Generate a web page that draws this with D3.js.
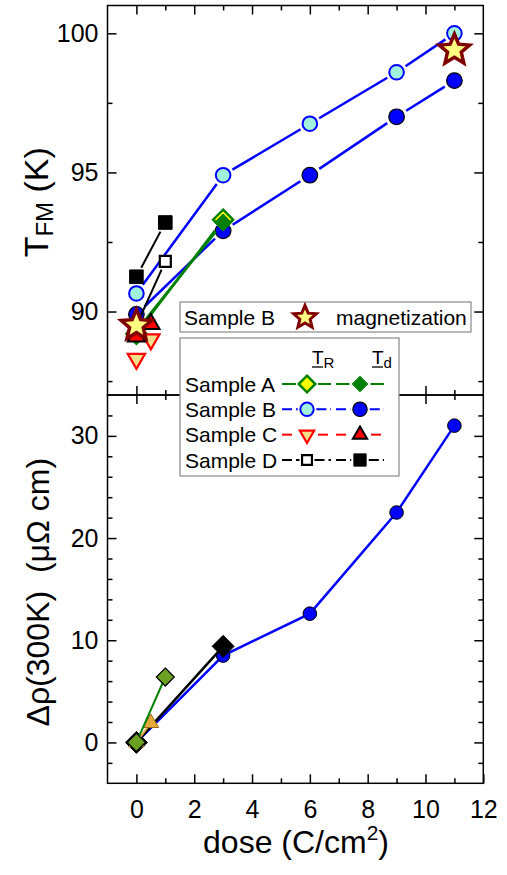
<!DOCTYPE html>
<html>
<head>
<meta charset="utf-8">
<script src="https://cdn.jsdelivr.net/npm/d3@7"></script>
<style>
  body { margin: 0; background: #fff; }
  svg { display: block; }
  text { font-family: "Liberation Sans", Arial, sans-serif; }
</style>
</head>
<body>
<div id="chart"></div>
<script>
// dose (C/cm^2) for every sample
const doseA = [0, 3];
const doseB = [0, 3, 6, 9, 11];
const doseC = [0, 0.5];
const doseD = [0, 1];
const doseMag = [0, 11];

// T_FM (K): T_R and T_d
const tfmA_R = [89.2, 93.3];
const tfmA_d = [89.3, 93.2];
const tfmB_R = [90.65, 94.9, 96.75, 98.6, 100.0];
const tfmB_d = [89.9, 92.9, 94.9, 97.0, 98.3];
const tfmC_R = [88.3, 89.0];
const tfmC_d = [89.1, 89.55];
const tfmD_R = [89.5, 91.8];
const tfmD_d = [91.25, 93.2];
const tfmMag = [89.5, 99.4];   // sample B, from magnetization

// delta rho(300K) (micro-ohm cm)
const rhoDoseA = [0, 1];
const rhoA = [0, 6.4];
const rhoDoseB = [0, 3, 6, 9, 11];
const rhoB = [0, 8.5, 12.6, 22.5, 31.0];
const rhoDoseC = [0, 0.5];
const rhoC = [0, 1.9];
const rhoDoseD = [0, 3];
const rhoD = [0, 9.4];

const xTicks = [0, 2, 4, 6, 8, 10, 12];
const yTicksTop = [90, 95, 100];
const yTicksBottom = [0, 10, 20, 30];
const legendSamples = ['Sample A', 'Sample B', 'Sample C', 'Sample D'];

const W = 507, H = 875;
const pLeft = 107.5, pRight = 483.3, pTop = 5.5, pMid = 395, pBottom = 783.3;

const svg = d3.select('#chart').append('svg')
    .attr('width', W)
    .attr('height', H);

const x = d3.scaleLinear().domain([-1, 12]).range([pLeft, pRight]);
const yTop = d3.scaleLinear().domain([87, 101]).range([pMid, pTop]);
const yBot = d3.scaleLinear().domain([-4, 34]).range([pBottom, pMid]);

// marker shapes, s = half size
function markerPath(type, s) {
    switch (type) {
        case 'circle':
            return `M${s},0A${s},${s} 0 1,1 ${-s},0A${s},${s} 0 1,1 ${s},0Z`;
        case 'diamond':
            return `M0,${-s}L${s},0L0,${s}L${-s},0Z`;
        case 'square':
            return `M${-s},${-s}h${2 * s}v${2 * s}h${-2 * s}Z`;
        case 'triUp':
            return `M0,${-s}L${0.866 * s},${0.5 * s}L${-0.866 * s},${0.5 * s}Z`;
        case 'triDown':
            return `M0,${s}L${0.866 * s},${-0.5 * s}L${-0.866 * s},${-0.5 * s}Z`;
        case 'star': {
            let p = [];
            for (let i = 0; i < 10; i++) {
                let r = i % 2 ? s * 0.45 : s;
                let a = -Math.PI / 2 + i * Math.PI / 5;
                p.push([r * Math.cos(a), r * Math.sin(a)]);
            }
            return 'M' + p.map(d => d.join(',')).join('L') + 'Z';
        }
    }
}

// line segments that stop a little before each marker (Origin style gap)
function gappedLine(g, pts, st) {
    for (let i = 0; i < pts.length - 1; i++) {
        let [x0, y0] = pts[i], [x1, y1] = pts[i + 1];
        let d = Math.hypot(x1 - x0, y1 - y0);
        let g0 = st.gap, g1 = st.gap;
        if (d <= g0 + g1) continue;
        let ux = (x1 - x0) / d, uy = (y1 - y0) / d;
        g.append('line')
            .attr('x1', x0 + ux * g0).attr('y1', y0 + uy * g0)
            .attr('x2', x1 - ux * g1).attr('y2', y1 - uy * g1)
            .style('stroke', st.line)
            .style('stroke-width', st.lw)
            .style('stroke-dasharray', st.dash || null);
    }
}

function drawSeries(g, xs, ys, yScale, st) {
    let pts = xs.map((d, i) => [x(d), yScale(ys[i])]);
    if (st.line) {
        if (st.gap) {
            gappedLine(g, pts, st);
        } else {
            g.append('path')
                .datum(pts)
                .attr('d', d3.line())
                .style('fill', 'none')
                .style('stroke', st.line)
                .style('stroke-width', st.lw);
        }
    }
    g.selectAll(null)
        .data(pts)
        .enter().append('path')
        .attr('transform', d => `translate(${d[0]},${d[1]})`)
        .attr('d', markerPath(st.shape, st.size))
        .style('fill', st.fill)
        .style('stroke', st.stroke)
        .style('stroke-width', st.sw)
        .style('stroke-linejoin', 'miter');
}

// marker / line styles
const styleA_R = { shape: 'diamond', size: 10, fill: '#ffff00', stroke: '#008000', sw: 2.5, line: '#008000', lw: 2.5 };
const styleA_d = { shape: 'diamond', size: 8.5, fill: '#008000', stroke: '#008000', sw: 1, line: '#008000', lw: 2.5 };
const styleB_R = { shape: 'circle', size: 7.3, fill: '#a0f2dc', stroke: '#0000ff', sw: 2, line: '#0000ff', lw: 2.5 };
const styleB_d = { shape: 'circle', size: 7.8, fill: '#0000ff', stroke: '#000', sw: 1.2, line: '#0000ff', lw: 2.5 };
const styleC_R = { shape: 'triDown', size: 10, fill: '#f2e08c', stroke: '#ff0000', sw: 2.2, line: '#ff0000', lw: 2 };
const styleC_d = { shape: 'triUp', size: 10, fill: '#ff0000', stroke: '#000', sw: 2, line: '#ff0000', lw: 2 };
const styleD_R = { shape: 'square', size: 5.5, fill: '#fff', stroke: '#000', sw: 2.2, line: '#000', lw: 2 };
const styleD_d = { shape: 'square', size: 6.8, fill: '#000', stroke: '#000', sw: 1, line: '#000', lw: 2 };
const styleMag = { shape: 'star', size: 16, fill: '#ffff80', stroke: '#800000', sw: 3.5 };

// ---- top panel ----
const topG = svg.append('g');
[[doseB, tfmB_R, styleB_R], [doseB, tfmB_d, styleB_d],
 [doseA, tfmA_R, styleA_R], [doseA, tfmA_d, styleA_d],
 [doseC, tfmC_R, styleC_R], [doseC, tfmC_d, styleC_d],
 [doseD, tfmD_R, styleD_R], [doseD, tfmD_d, styleD_d],
 [doseMag, tfmMag, styleMag]].forEach(([xs, ys, st]) => {
    drawSeries(topG, xs, ys, yTop, Object.assign({ gap: st.size + 3.5 }, st));
});

// ---- bottom panel ----
const botG = svg.append('g');
drawSeries(botG, rhoDoseB, rhoB, yBot,
    { shape: 'circle', size: 6.8, fill: '#0000ff', stroke: '#000', sw: 1, line: '#0000ff', lw: 2.5 });
drawSeries(botG, rhoDoseD, rhoD, yBot,
    { shape: 'diamond', size: 11, fill: '#000', stroke: '#000', sw: 1, line: '#000', lw: 2.5 });
drawSeries(botG, rhoDoseC, rhoC, yBot,
    { shape: 'triUp', size: 9, fill: '#e8a93c', stroke: '#9a6a18', sw: 1, line: '#e8a93c', lw: 2 });
drawSeries(botG, rhoDoseA, rhoA, yBot,
    { shape: 'diamond', size: 9, fill: '#6aa121', stroke: '#000', sw: 1.2, line: '#008000', lw: 2 });

// ---- axes ----
const axisFont = 25;
const xMinor = d3.range(1, 12, 2);

function styleAxis(g) {
    g.select('.domain').remove();
    g.selectAll('line').style('stroke', '#000').style('stroke-width', 1.5);
    g.selectAll('text').style('font-size', axisFont + 'px').style('fill', '#000')
        .style('font-family', '"Liberation Sans", Arial, sans-serif');
}

function panelAxes(yScale, yMajor, yMinor, y0, y1, labelsX) {
    let ax = svg.append('g');
    ax.append('g').attr('transform', `translate(${pLeft},0)`)
        .call(d3.axisLeft(yScale).tickValues(yMajor).tickSize(-9).tickPadding(9).tickSizeOuter(0))
        .call(styleAxis);
    ax.append('g').attr('transform', `translate(${pLeft},0)`)
        .call(d3.axisLeft(yScale).tickValues(yMinor).tickSize(-5).tickFormat('').tickSizeOuter(0))
        .call(styleAxis);
    ax.append('g').attr('transform', `translate(${pRight},0)`)
        .call(d3.axisRight(yScale).tickValues(yMajor).tickSize(-9).tickFormat('').tickSizeOuter(0))
        .call(styleAxis);
    ax.append('g').attr('transform', `translate(${pRight},0)`)
        .call(d3.axisRight(yScale).tickValues(yMinor).tickSize(-5).tickFormat('').tickSizeOuter(0))
        .call(styleAxis);
    // top edge (ticks pointing down) and bottom edge (ticks pointing up)
    ax.append('g').attr('transform', `translate(0,${y0})`)
        .call(d3.axisTop(x).tickValues(xTicks.slice(0, -1)).tickSize(-9).tickFormat('').tickSizeOuter(0))
        .call(styleAxis);
    ax.append('g').attr('transform', `translate(0,${y0})`)
        .call(d3.axisTop(x).tickValues(xMinor).tickSize(-5).tickFormat('').tickSizeOuter(0))
        .call(styleAxis);
    ax.append('g').attr('transform', `translate(0,${y1})`)
        .call(d3.axisBottom(x).tickValues(labelsX ? xTicks : xTicks.slice(0, -1)).tickSize(-9)
            .tickPadding(17).tickFormat(labelsX ? d3.format('d') : '').tickSizeOuter(0))
        .call(styleAxis);
    ax.append('g').attr('transform', `translate(0,${y1})`)
        .call(d3.axisBottom(x).tickValues(xMinor).tickSize(-5).tickFormat('').tickSizeOuter(0))
        .call(styleAxis);
    ax.append('rect')
        .attr('x', pLeft).attr('y', y0)
        .attr('width', pRight - pLeft).attr('height', y1 - y0)
        .style('fill', 'none').style('stroke', '#000').style('stroke-width', 1.5);
}

const minorTop = d3.range(87.5, 101, 2.5).filter(v => !yTicksTop.includes(v));
const minorBot = d3.range(-2, 34, 2).filter(v => !yTicksBottom.includes(v));
panelAxes(yTop, yTicksTop, minorTop, pTop, pMid, false);
panelAxes(yBot, yTicksBottom, minorBot, pMid, pBottom, true);

// ---- axis titles ----
const tTitle = svg.append('text')
    .attr('transform', `translate(48,${(pTop + pMid) / 2 + 2}) rotate(-90)`)
    .attr('text-anchor', 'middle')
    .style('font-size', '34px');
tTitle.append('tspan').text('T');
tTitle.append('tspan').attr('dy', 5).style('font-size', '24px').text('FM');
tTitle.append('tspan').attr('dy', -5).text(' (K)');

svg.append('text')
    .attr('transform', `translate(49,${(pMid + pBottom) / 2 + 3}) rotate(-90)`)
    .attr('text-anchor', 'middle')
    .style('font-size', '32px')
    .text('\u0394\u03c1(300K)\u00a0\u00a0(\u03bc\u03a9 cm)');

const xTitle = svg.append('text')
    .attr('x', 296).attr('y', 853)
    .attr('text-anchor', 'middle')
    .style('font-size', '32px');
xTitle.append('tspan').text('dose (C/cm');
xTitle.append('tspan').attr('dy', -13).style('font-size', '21px').text('2');
xTitle.append('tspan').attr('dy', 13).text(')');

// ---- legends ----
const legFont = 21;
const leg1 = svg.append('g');
leg1.append('rect').attr('x', 180).attr('y', 302).attr('width', 291).attr('height', 30)
    .style('fill', '#fff').style('stroke', '#888').style('stroke-width', 1.2);
leg1.append('text').attr('x', 184).attr('y', 324.5).style('font-size', legFont + 'px').text('Sample B');
leg1.append('path').attr('transform', 'translate(305,317.5)')
    .attr('d', markerPath('star', 12))
    .style('fill', styleMag.fill).style('stroke', styleMag.stroke).style('stroke-width', 3);
leg1.append('text').attr('x', 336).attr('y', 324.5).style('font-size', legFont + 'px').text('magnetization');

const leg2 = svg.append('g');
leg2.append('rect').attr('x', 180).attr('y', 338).attr('width', 219).attr('height', 138)
    .style('fill', '#fff').style('stroke', '#888').style('stroke-width', 1.2);

[[312, 'R'], [372, 'd']].forEach(([hx, sub]) => {
    let t = leg2.append('text').attr('x', hx).attr('y', 364).style('font-size', '19px');
    t.append('tspan').text('T');
    t.append('tspan').attr('dy', 4).style('font-size', '15px').text(sub);
    leg2.append('line').attr('x1', hx).attr('x2', hx + 11).attr('y1', 367).attr('y2', 367)
        .style('stroke', '#000').style('stroke-width', 1.3);
});

const legRows = [[styleA_R, styleA_d, null], [styleB_R, styleB_d, '10,4'],
                 [styleC_R, styleC_d, '10,4'], [styleD_R, styleD_d, '10,4']];
const rowY = d3.scalePoint().domain(legendSamples).range([384, 460]);

legendSamples.forEach((name, i) => {
    let cy = rowY(name);
    leg2.append('text').attr('x', 185).attr('y', cy + 7.5).style('font-size', legFont + 'px').text(name);
    let [sr, sd, dash] = legRows[i];
    [[282, 307, 331, sr], [336, 360, 384, sd]].forEach(([x0, xm, x1, st]) => {
        let s = Math.min(st.size, 9);
        gappedLine(leg2, [[x0 - s - 2, cy], [xm, cy]], { gap: s + 2, line: st.line, lw: 2, dash: dash });
        gappedLine(leg2, [[xm, cy], [x1 + s + 2, cy]], { gap: s + 2, line: st.line, lw: 2, dash: dash });
        leg2.append('path').attr('transform', `translate(${xm},${cy})`)
            .attr('d', markerPath(st.shape, st.shape === 'square' ? st.size * 0.9 : s * 0.92))
            .style('fill', st.fill).style('stroke', st.stroke).style('stroke-width', st.sw);
    });
});
</script>
</body>
</html>
